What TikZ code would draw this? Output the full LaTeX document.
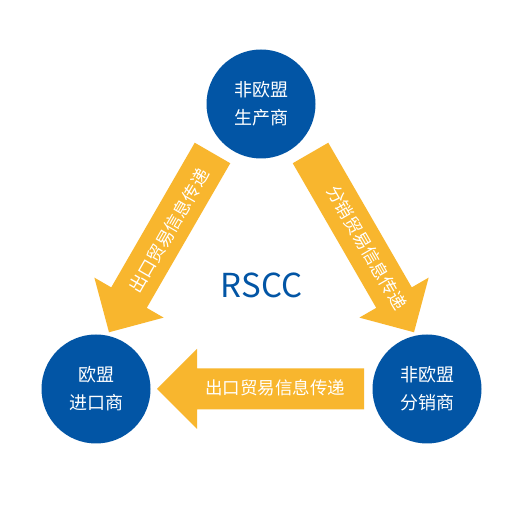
\documentclass[tikz,border=0pt]{standalone}
\usepackage{fontspec}
\newfontfamily\cjk{Noto Sans CJK SC}
\definecolor{cblue}{HTML}{0255A5}
\definecolor{cyell}{HTML}{F8B62E}
\begin{document}
\begin{tikzpicture}[x=1pt,y=1pt,
  party/.style={circle,fill=cblue,minimum size=109pt,inner sep=0pt,text=white,
    font=\cjk\fontsize{18}{28}\selectfont,align=center},
  flowtext/.style={text=white,font=\cjk\fontsize{17.5}{20}\selectfont,inner sep=0pt},
  blockarrow/.style={fill=cyell}]
\useasboundingbox[fill=white] (0,0) rectangle (521,518);
% arrows (local: tail at origin, pointing along +x)
\def\blk{(0,-20.5) -- (167,-20.5) -- (167,-40) -- (207,0) -- (167,40) -- (167,20.5) -- (0,20.5) -- cycle}
\begin{scope}[shift={(212.5,365)},rotate=240]
  \fill[blockarrow] \blk;
\end{scope}
\begin{scope}[shift={(310.5,365)},rotate=300]
  \fill[blockarrow] \blk;
\end{scope}
\begin{scope}[shift={(364,129)},rotate=180]
  \fill[blockarrow] \blk;
\end{scope}
% parties
\node[party] (prod) at (261,414) {非欧盟\\生产商};
\node[party] (imp) at (96,129) {欧盟\\进口商};
\node[party] (dist) at (427,129) {非欧盟\\分销商};
% labels
\node[flowtext,rotate=60] (t1) at (169,287) {出口贸易信息传递};
\node[flowtext,rotate=-60] (t2) at (367,270) {分销贸易信息传递};
\node[flowtext] (t3) at (275,130) {出口贸易信息传递};
\node[text=cblue,font=\cjk\fontsize{33}{36}\selectfont,inner sep=0pt] (rscc) at (261.5,233) {RSCC};
\end{tikzpicture}
\end{document}
